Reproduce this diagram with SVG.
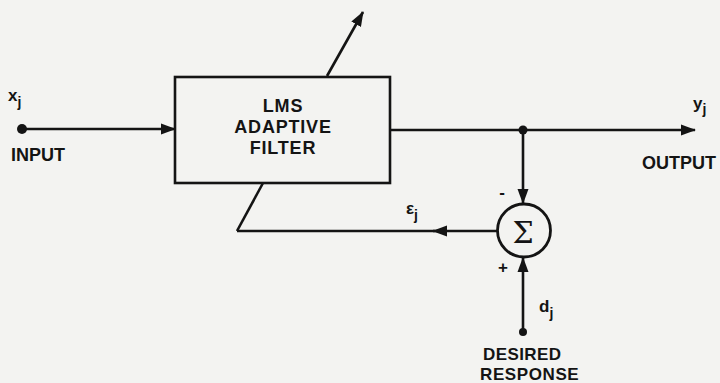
<svg xmlns="http://www.w3.org/2000/svg" width="720" height="383" viewBox="0 0 720 383">
  <defs>
    <marker id="arr" markerUnits="userSpaceOnUse" markerWidth="16" markerHeight="12" refX="14" refY="6" orient="auto">
      <path d="M0,0.5 L15,6 L0,11.5 Z" fill="#141414"/>
    </marker>
    <style>
      .ln{stroke:#141414;stroke-width:2.6;fill:none}
      .lbl{font-family:"Liberation Sans",Arial,sans-serif;font-weight:bold;fill:#141414}
      .big{font-size:18px}
      .var{font-size:17px}
      .sub{font-size:14px}
    </style>
  </defs>
  <rect x="0" y="0" width="720" height="383" fill="#f3f3f1"/>

  <g id="connectors">
    <line class="ln" x1="22" y1="129" x2="175" y2="129" marker-end="url(#arr)"/>
    <line class="ln" x1="390" y1="130" x2="695" y2="130" marker-end="url(#arr)"/>
    <line class="ln" x1="523" y1="130" x2="523" y2="203" marker-end="url(#arr)"/>
    <line class="ln" x1="523" y1="332" x2="523" y2="258" marker-end="url(#arr)"/>
    <line class="ln" x1="497" y1="231" x2="433" y2="231" marker-end="url(#arr)"/>
    <line class="ln" x1="435" y1="231" x2="237" y2="231"/>
    <line class="ln" x1="237" y1="231" x2="263" y2="183"/>
    <line class="ln" x1="327" y1="76" x2="363" y2="12" marker-end="url(#arr)"/>
  </g>

  <g id="input">
    <circle cx="22" cy="129" r="5" fill="#141414"/>
    <text class="lbl var" x="8" y="101">x<tspan class="sub" dy="6">j</tspan></text>
    <text class="lbl big" x="11" y="161">INPUT</text>
  </g>

  <g id="filter">
    <rect x="175" y="77" width="215" height="106" fill="none" stroke="#141414" stroke-width="2.6"/>
    <text class="lbl big" x="283" y="112" text-anchor="middle" letter-spacing="0.8">LMS</text>
    <text class="lbl big" x="283" y="133" text-anchor="middle" letter-spacing="0.8">ADAPTIVE</text>
    <text class="lbl big" x="283" y="154" text-anchor="middle" letter-spacing="0.8">FILTER</text>
  </g>

  <g id="junction">
    <circle cx="523" cy="130" r="4.5" fill="#141414"/>
  </g>

  <g id="output">
    <text class="lbl var" x="693" y="109">y<tspan class="sub" dy="5">j</tspan></text>
    <text class="lbl big" x="642" y="169">OUTPUT</text>
  </g>

  <g id="sum">
    <circle cx="524" cy="230.5" r="26.5" fill="none" stroke="#141414" stroke-width="2.8"/>
    <text x="523" y="243" text-anchor="middle" font-family="'DejaVu Serif','Liberation Serif',serif" font-size="30" fill="#141414">Σ</text>
    <text class="lbl" x="502" y="198" font-size="17" text-anchor="middle">-</text>
    <text class="lbl" x="503" y="273" font-size="17" text-anchor="middle">+</text>
  </g>

  <g id="error">
    <text class="lbl var" x="406" y="214" font-family="'DejaVu Serif','Liberation Serif',serif">ε<tspan class="sub" dy="6" font-family="'Liberation Sans',sans-serif">j</tspan></text>
  </g>

  <g id="desired">
    <circle cx="523" cy="332" r="4" fill="#141414"/>
    <text class="lbl var" x="539" y="312">d<tspan class="sub" dy="6">j</tspan></text>
    <text class="lbl" x="483" y="360" font-size="17" letter-spacing="0.4">DESIRED</text>
    <text class="lbl" x="480" y="380" font-size="17" letter-spacing="0.6">RESPONSE</text>
  </g>
</svg>
